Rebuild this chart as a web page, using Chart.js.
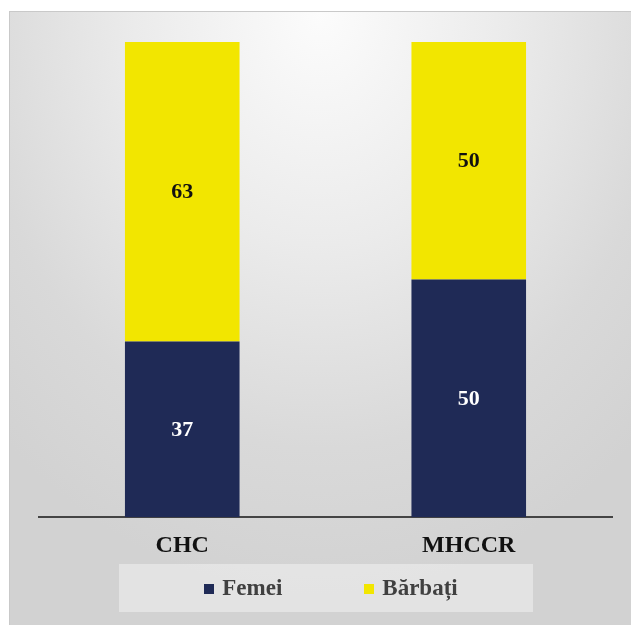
<!DOCTYPE html>
<html>
<head>
<meta charset="utf-8">
<script src="https://cdn.jsdelivr.net/npm/chart.js@4/dist/chart.umd.min.js"></script>
<style>
  html, body { margin: 0; padding: 0; background: #ffffff; }
  #frame {
    position: absolute; left: 9px; top: 11px; width: 622px; height: 614px;
    box-sizing: border-box;
    border-left: 1px solid #c9c9c9; border-top: 1px solid #c9c9c9;
    background: radial-gradient(ellipse 75% 95% at 50% 0%, #fcfcfc 0%, #ebebeb 40%, #d9d9d9 75%, #d2d2d2 100%);
  }
  #chart { position: absolute; left: -1px; top: -1px; }
  #legend {
    position: absolute; left: 109px; top: 552px; width: 414px; height: 48px;
    background: rgba(255,255,255,0.38);
    display: flex; align-items: center; justify-content: center;
    padding-left: 10px; box-sizing: border-box;
    font-family: "Liberation Serif", "Times New Roman", serif;
    font-weight: bold; font-size: 23px; color: #404040;
  }
  .item { display: flex; align-items: center; }
  .item + .item { margin-left: 82px; }
  .swatch { width: 10px; height: 10px; margin-right: 8px; margin-top: 2px; }
</style>
</head>
<body>
<div id="frame">
  <canvas id="chart" width="622" height="614"></canvas>
  <div id="legend"></div>
</div>
<script>
// Share of women and men per group (percent)
const categories = ['CHC', 'MHCCR'];
const femei = [37, 50];
const barbati = [63, 50];
const seriesNames = ['Femei', 'Bărbați'];
const seriesColors = ['#1f2a56', '#f2e600'];
const labelColors = ['#ffffff', '#111111'];

const serif = '"Liberation Serif", "Times New Roman", serif';

// Writes each segment's value in the middle of its bar piece
const segmentValues = {
  id: 'segmentValues',
  afterDatasetsDraw(chart) {
    const ctx = chart.ctx;
    ctx.save();
    ctx.font = 'bold 22px ' + serif;
    ctx.textAlign = 'center';
    ctx.textBaseline = 'middle';
    chart.data.datasets.forEach((ds, di) => {
      const meta = chart.getDatasetMeta(di);
      meta.data.forEach((bar, i) => {
        const p = bar.getProps(['x', 'y', 'base'], true);
        ctx.fillStyle = labelColors[di];
        ctx.fillText(String(ds.data[i]), p.x, (p.y + p.base) / 2 + 1);
      });
    });
    ctx.restore();
  }
};

const chart = new Chart(document.getElementById('chart'), {
  type: 'bar',
  data: {
    labels: categories,
    datasets: [
      { label: seriesNames[0], data: femei, backgroundColor: seriesColors[0] },
      { label: seriesNames[1], data: barbati, backgroundColor: seriesColors[1] }
    ]
  },
  options: {
    responsive: false,
    animation: false,
    datasets: { bar: { categoryPercentage: 0.8, barPercentage: 0.5 } },
    layout: { padding: { left: 30, right: 19, top: 31, bottom: 51 } },
    plugins: { legend: { display: false }, tooltip: { enabled: false } },
    scales: {
      x: {
        stacked: true,
        grid: { display: false, drawTicks: false },
        border: { display: true, color: '#444444', width: 2 },
        ticks: { color: '#111111', padding: 14, font: { family: serif, size: 24, weight: 'bold' } }
      },
      y: { stacked: true, display: false, min: 0, max: 100 }
    }
  },
  plugins: [segmentValues]
});

// Legend built from the chart's own datasets
const legend = document.getElementById('legend');
chart.data.datasets.forEach(ds => {
  const item = document.createElement('div');
  item.className = 'item';
  const sw = document.createElement('span');
  sw.className = 'swatch';
  sw.style.background = ds.backgroundColor;
  const tx = document.createElement('span');
  tx.textContent = ds.label;
  item.appendChild(sw);
  item.appendChild(tx);
  legend.appendChild(item);
});
</script>
</body>
</html>
